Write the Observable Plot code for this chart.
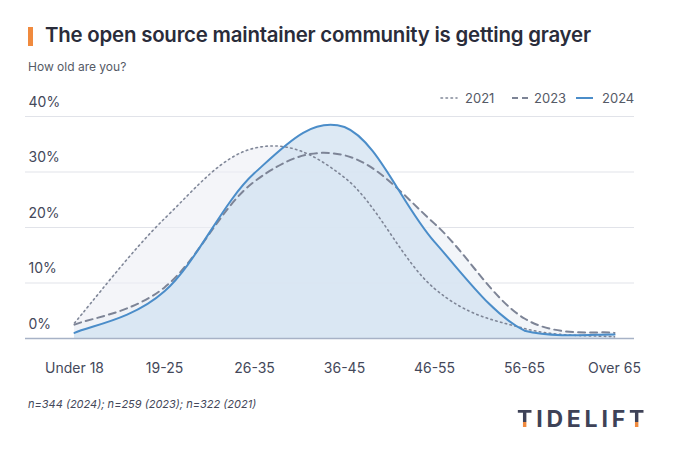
<!DOCTYPE html>
<html><head><meta charset="utf-8">
<script src="https://cdn.jsdelivr.net/npm/d3@7"></script>
<script src="https://cdn.jsdelivr.net/npm/@observablehq/plot@0.6"></script>
<style>
body{margin:0;background:#fff;font-family:Inter,"Noto Sans",sans-serif;width:680px;height:468px;position:relative;overflow:hidden}
#bar{position:absolute;left:28px;top:27px;width:5px;height:19px;background:#f08a3e}
#title{position:absolute;left:45px;top:22px;font-size:20.4px;font-weight:600;color:#2a2c3a;letter-spacing:-0.2px;white-space:nowrap}
#subtitle{position:absolute;left:28px;top:59px;font-size:12px;color:#555a66}
#chart{position:absolute;left:0;top:82px}
.lg{position:absolute;top:90px;font-size:13px;color:#555a66;line-height:16px}
.sw{position:absolute;top:90px}
#caption{position:absolute;left:28px;top:397px;font-size:11px;font-style:italic;color:#44485a}
#logo{position:absolute;left:517px;top:405px;font-size:23px;font-weight:700;color:#3e4257;letter-spacing:3.8px}
.tt{background:linear-gradient(to bottom,#3e4257 62%,#f08a3e 62%);-webkit-background-clip:text;background-clip:text;color:transparent}
</style></head>
<body>
<div id="bar"></div>
<div id="title">The open source maintainer community is getting grayer</div>
<div id="subtitle">How old are you?</div>
<svg class="sw" style="left:440px" width="18" height="16"><line x1="1" y1="8" x2="17" y2="8" stroke="#7f8697" stroke-width="1.6" stroke-dasharray="1.5,3.5" stroke-linecap="round"/></svg>
<div class="lg" style="left:465px">2021</div>
<svg class="sw" style="left:511px" width="18" height="16"><line x1="1" y1="8" x2="17" y2="8" stroke="#7d8496" stroke-width="2" stroke-dasharray="6,4"/></svg>
<div class="lg" style="left:534px">2023</div>
<svg class="sw" style="left:575px" width="19" height="16"><line x1="1" y1="8" x2="18" y2="8" stroke="#4b8dc9" stroke-width="2"/></svg>
<div class="lg" style="left:602px">2024</div>
<div id="chart"></div>
<div id="caption">n=344 (2024); n=259 (2023); n=322 (2021)</div>
<div id="logo"><span class="tt">T</span>IDELIF<span class="tt">T</span></div>
<script>
const ages = ["Under 18","19-25","26-35","36-45","46-55","56-65","Over 65"];
const v2021 = [2.8, 21.6, 34.3, 29.0, 9.0, 1.8, 0.3];
const v2023 = [2.5, 9.2, 28.3, 33.0, 20.7, 3.6, 1.0];
const v2024 = [1.0, 8.5, 29.8, 38.1, 17.4, 1.4, 0.7];
const yTicks = [0, 10, 20, 30, 40];

const rows = (vals) => ages.map((a, i) => ({age: a, value: vals[i]}));
const d21 = rows(v2021), d23 = rows(v2023), d24 = rows(v2024);

const Y0 = 256, Y1 = 34; // pixel extent of the y scale (bottom, top)

// cardinal-style spline, control points kept inside the plot area
function SplineCurve(context) { this._context = context; }
SplineCurve.prototype = {
  areaStart() { this._line = 0; },
  areaEnd() { this._line = NaN; },
  lineStart() { this._pts = []; },
  point(x, y) { this._pts.push([+x, +y]); },
  lineEnd() {
    const p = this._pts, c = this._context, n = p.length, k = 0.18;
    const cap = (v) => Math.max(Y1, Math.min(Y0, v));
    if (n) {
      if (this._line) c.lineTo(p[0][0], p[0][1]); else c.moveTo(p[0][0], p[0][1]);
      if (n === 2) c.lineTo(p[1][0], p[1][1]);
      else if (n > 2) {
        const cps = p.map((cur, i) => {
          const prev = p[Math.max(0, i - 1)], next = p[Math.min(n - 1, i + 1)];
          return {
            px: cur[0] - k * (next[0] - prev[0]), py: cap(cur[1] - k * (next[1] - prev[1])),
            nx: cur[0] + k * (next[0] - prev[0]), ny: cap(cur[1] + k * (next[1] - prev[1]))
          };
        });
        for (let i = 1; i < n; i++) c.bezierCurveTo(cps[i - 1].nx, cps[i - 1].ny, cps[i].px, cps[i].py, p[i][0], p[i][1]);
      }
    }
    if (this._line || (this._line !== 0 && n === 1)) c.closePath();
    this._line = 1 - this._line;
  }
};
const curve = (ctx) => new SplineCurve(ctx);

const chart = Plot.plot({
  width: 680, height: 300,
  marginTop: Y1, marginBottom: 300 - Y0, marginLeft: 25, marginRight: 46,
  style: {fontFamily: "Inter, 'Noto Sans', sans-serif", background: "transparent"},
  x: {type: "point", domain: ages, range: [71, 616], padding: 0},
  y: {domain: [0, 40], range: [Y0, Y1], axis: null},
  marks: [
    Plot.ruleY(yTicks.filter(d => d > 0), {stroke: "#e1e3e9", strokeWidth: 1}),
    Plot.areaY(d21, {x: "age", y: "value", curve, fill: "#eceef5", fillOpacity: 0.6}),
    Plot.areaY(d23, {x: "age", y: "value", curve, fill: "#edf1f7", fillOpacity: 0.7}),
    Plot.areaY(d24, {x: "age", y: "value", curve, fill: "#d4e3f1", fillOpacity: 0.8}),
    Plot.ruleY([0], {stroke: "#a7b2c6", strokeWidth: 1.5}),
    Plot.line(d21, {x: "age", y: "value", curve, stroke: "#7f8697", strokeWidth: 1.6, strokeDasharray: "1.5,3.5", strokeLinecap: "round"}),
    Plot.line(d23, {x: "age", y: "value", curve, stroke: "#7d8496", strokeWidth: 2, strokeDasharray: "7,5"}),
    Plot.line(d24, {x: "age", y: "value", curve, stroke: "#4b8dc9", strokeWidth: 2}),
    Plot.text(yTicks, {y: d => d, text: d => d + "%", frameAnchor: "left", textAnchor: "start", dx: 3, dy: -14, fontSize: 14, fill: "#44485a"}),
    Plot.axisX({tickSize: 0, tickPadding: 25, fontSize: 14, fill: "#44485a", label: null})
  ]
});
document.getElementById("chart").append(chart);
</script>
</body></html>
